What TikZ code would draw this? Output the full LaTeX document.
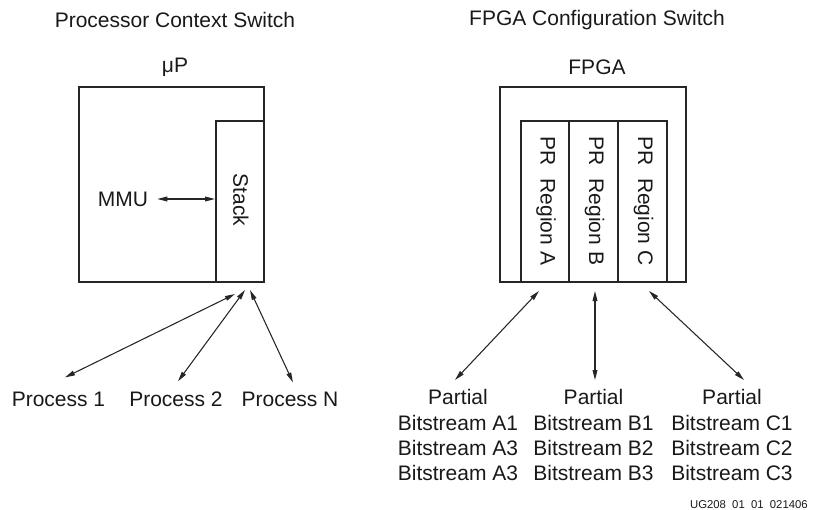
\documentclass[tikz,border=0pt]{standalone}
\usepackage{fontspec}
\setmainfont{Liberation Sans}
\usetikzlibrary{arrows.meta,calc}
\begin{document}
\begin{tikzpicture}[x=0.75pt,y=-0.75pt,
  box/.style={draw=black!85,line width=1.5pt,inner sep=0pt},
  lbl/.style={inner sep=0pt,text=black!90,font=\fontsize{15.75}{19}\selectfont},
  vlbl/.style={lbl,rotate=-90},
  small/.style={inner sep=0pt,text=black!90,font=\fontsize{8.5}{10}\selectfont},
  link/.style={line width=0.8pt,draw=black!85,
    {Triangle[length=7.5pt,width=3.6pt]}-{Triangle[length=7.5pt,width=3.6pt]}}
]
\useasboundingbox (0,0) rectangle (814,510);

% ---------- processor side ----------
\node[lbl] (ttlP) at (175,20) {Processor Context Switch};
\node[lbl] (up) at (175,67) {μP};
\node[box,minimum width=185*0.75pt,minimum height=195*0.75pt] (cpu) at (171.5,184.5) {};
\node[box,minimum width=48*0.75pt,minimum height=161*0.75pt] (stack) at (240,201.5) {};
\node[vlbl] (stacktxt) at (241,200) {Stack};
\node[lbl] (mmu) at (123,199) {MMU};
\draw[link,shorten <=9*0.75pt] (mmu.east) -- (mmu.east -| stack.west);

\node[lbl] (p1) at (58.5,399) {Process 1};
\node[lbl] (p2) at (176,399) {Process 2};
\node[lbl] (p3) at (290,399) {Process N};
\draw[link] ($(stack.south)+(-5,11)$) -- ($(p1.north)+(6.5,-14)$);
\draw[link] ($(stack.south)+(5,7)$) -- ($(p2.north)+(2,-10)$);
\draw[link] ($(stack.south)+(10,7)$) -- ($(p3.north)+(3,-9)$);

% ---------- FPGA side ----------
\node[lbl] (ttlF) at (597,20) {FPGA Configuration Switch};
\node[lbl] (fpgatxt) at (597,67) {FPGA};
\node[box,minimum width=186*0.75pt,minimum height=195*0.75pt] (fpga) at (593,184.5) {};
\node[box,minimum width=48*0.75pt,minimum height=161*0.75pt] (ra) at (545,201.5) {};
\node[box,minimum width=49*0.75pt,minimum height=161*0.75pt] (rb) at (593.5,201.5) {};
\node[box,minimum width=49*0.75pt,minimum height=161*0.75pt] (rc) at (642.5,201.5) {};
\node[vlbl] (ratxt) at (546,201) {PR\hspace{0.6em}Region A};
\node[vlbl] (rbtxt) at (594.5,201) {PR\hspace{0.6em}Region B};
\node[vlbl] (rctxt) at (643.5,201) {PR\hspace{0.6em}Region C};

\node[lbl,align=center,anchor=north] (ba) at (458,389.5)
  {Partial\\Bitstream A1\\Bitstream A3\\Bitstream A3};
\node[lbl,align=center,anchor=north] (bb) at (593.5,389.5)
  {Partial\\Bitstream B1\\Bitstream B2\\Bitstream B3};
\node[lbl,align=center,anchor=north] (bc) at (732,389.5)
  {Partial\\Bitstream C1\\Bitstream C2\\Bitstream C3};
\draw[link] ($(ra.south)+(-6,8)$) -- ($(ba.north)+(-3,-9.5)$);
\draw[link] ($(rb.south)+(1.5,8)$) -- ($(bb.north)+(1.5,-9.5)$);
\draw[link] ($(rc.south)+(6.5,8)$) -- ($(bc.north)+(12,-9.5)$);

\node[small,anchor=east] (code) at (808,505) {UG208\hspace{0.55em}01\hspace{0.55em}01\hspace{0.55em}021406};
\end{tikzpicture}
\end{document}
